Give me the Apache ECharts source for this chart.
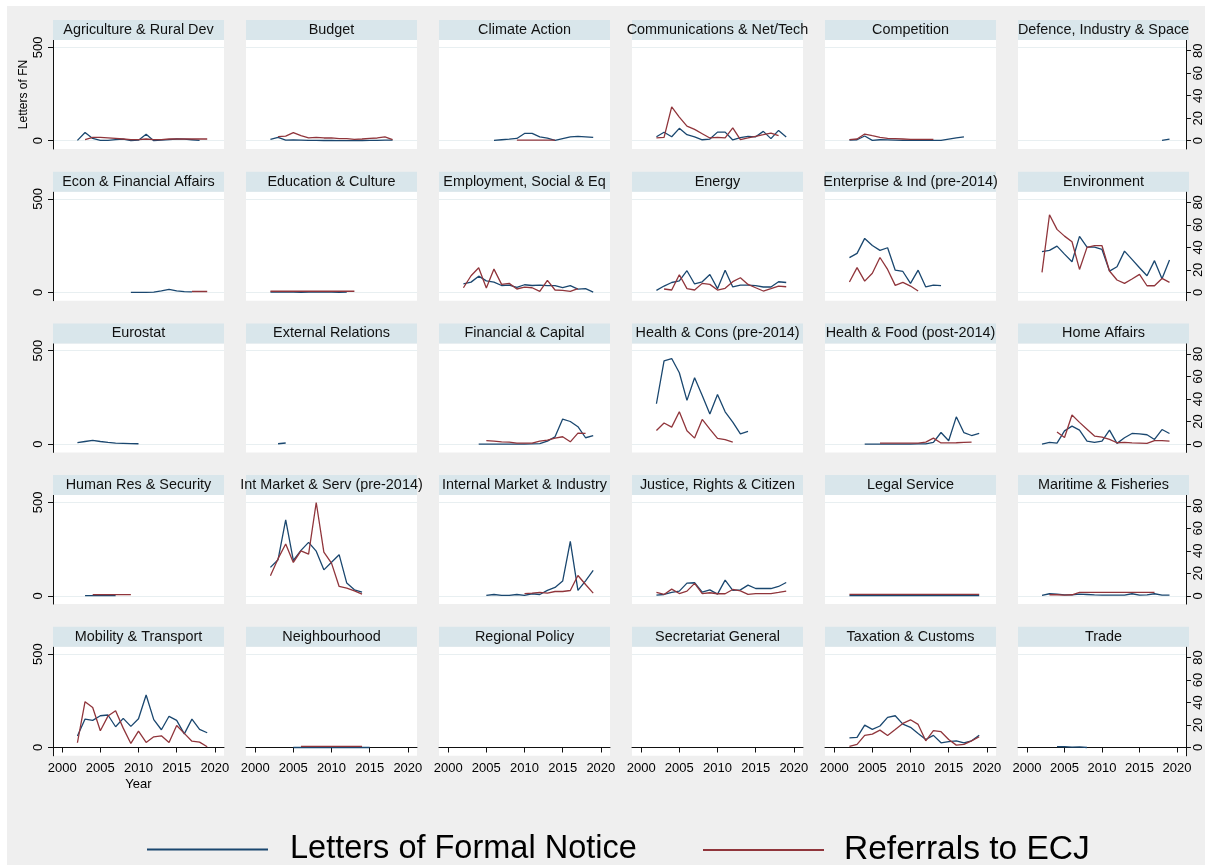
<!DOCTYPE html>
<html><head><meta charset="utf-8">
<script src="https://cdn.jsdelivr.net/npm/echarts@6/dist/echarts.min.js"></script>
<style>
html,body{margin:0;padding:0;background:#fff;}
#bg{position:absolute;left:7px;top:6px;width:1198px;height:859px;background:#efefef;}
#chart{position:absolute;left:0;top:0;width:1205px;height:865px;}
</style></head><body>
<div id="bg"></div><div id="chart"></div>
<script>
const _ = null;
const years = [2002,2003,2004,2005,2006,2007,2008,2009,2010,2011,2012,2013,2014,2015,2016,2017,2018,2019];
const xTicks = [2000,2005,2010,2015,2020];
const leftTicks = [0,500];
const rightTicks = [0,20,40,60,80];

const panelNames = [
  'Agriculture & Rural Dev','Budget','Climate Action','Communications & Net/Tech','Competition','Defence, Industry & Space',
  'Econ & Financial Affairs','Education & Culture','Employment, Social & Eq','Energy','Enterprise & Ind (pre-2014)','Environment',
  'Eurostat','External Relations','Financial & Capital','Health & Cons (pre-2014)','Health & Food (post-2014)','Home Affairs',
  'Human Res & Security','Int Market & Serv (pre-2014)','Internal Market & Industry','Justice, Rights & Citizen','Legal Service','Maritime & Fisheries',
  'Mobility & Transport','Neighbourhood','Regional Policy','Secretariat General','Taxation & Customs','Trade'
];

// Letters of Formal Notice (left axis), years 2002-2019
const lettersFN = [
  [2,44,12,2,2,6,8,0,3,34,0,3,6,9,8,5,2,_],
  [7,18,3,4,3,2,2,1,1,0,0,0,1,2,2,3,3,_],
  [_,_,_,_,2,5,8,12,39,39,21,14,2,11,20,23,21,18],
  [21,45,21,66,32,21,5,9,46,46,4,16,23,21,50,11,55,20],
  [3,5,25,2,5,4,3,2,2,2,2,2,2,9,15,21,_,_],
  [_,_,_,_,_,_,_,_,_,_,_,_,_,_,_,_,2,9],
  [_,_,_,_,_,_,_,0,0,0,1,8,16,8,4,3,_,_],
  [2,1,2,1,0,1,1,1,1,0,1,_,_,_,_,_,_,_],
  [46,55,87,62,55,37,39,27,41,37,39,36,36,25,36,18,20,2],
  [11,34,53,62,116,45,57,96,20,119,29,39,39,36,29,29,57,53],
  [186,209,289,251,225,239,119,112,48,119,29,39,36,_,_,_,_,_],
  [218,225,248,205,164,300,242,242,230,114,137,221,177,132,89,170,73,173],
  [8,14,20,14,9,5,4,3,2,_,_,_,_,_,_,_,_,_],
  [_,2,6,_,_,_,_,_,_,_,_,_,_,_,_,_,_,_],
  [_,_,0,0,0,0,0,0,0,1,3,16,39,134,121,93,34,45],
  [216,446,458,382,234,355,260,161,266,173,118,55,68,_,_,_,_,_],
  [_,_,0,0,0,0,0,0,0,1,1,9,62,18,146,61,46,57],
  [0,9,5,71,96,75,16,9,16,75,4,34,57,55,50,25,78,57],
  [_,1,1,1,1,1,_,_,_,_,_,_,_,_,_,_,_,_],
  [152,193,407,189,243,286,239,139,180,220,68,32,20,_,_,_,_,_],
  [_,_,_,2,7,2,2,7,2,11,7,29,45,79,291,29,80,136],
  [4,7,18,25,68,70,20,32,9,84,29,32,57,39,39,39,50,71],
  [1,1,1,1,1,1,1,1,1,1,1,1,1,1,1,1,1,1],
  [2,11,9,5,5,9,7,5,4,4,4,4,11,4,5,11,4,4],
  [61,152,145,170,174,111,156,113,154,281,149,95,167,145,73,152,97,79],
  [_,_,_,0,0,0,0,0,0,0,0,0,0,0,_,_,_,_],
  [],
  [],
  [52,54,120,97,115,161,170,125,108,75,43,65,25,32,36,25,36,66],
  [_,_,5,4,2,3,0,_,_,_,_,_,_,_,_,_,_,_]
];

// Referrals to ECJ (right axis), years 2002-2019
const referrals = [
  [_,1,3,3,2.5,2,1.5,1,1,1.5,1,1,1.5,1.5,1.5,1.5,1.5,1.5],
  [_,3.6,4.1,7.1,4.4,2.4,3,2.4,2.4,1.8,1.8,1.2,1.5,2,2.4,3.3,1,_],
  [_,_,_,_,_,_,_,0.5,0.5,0.5,0.5,0.5,0.5,_,_,_,_,_],
  [2.4,3,30,21,13,10,6.2,2.4,3,2.4,11.3,1,2.4,3.9,5.3,6.8,4.4,_],
  [1,1.5,5.9,4.4,3,2,1.8,1.5,1.2,1.2,1.2,1.2,_,_,_,_,_,_],
  [],
  [_,_,_,_,_,_,_,_,_,_,_,_,_,_,_,0.8,0.8,0.8],
  [1,1,1,1,1,1,1,1,1,1,1,1,_,_,_,_,_,_],
  [4.1,14.8,21.9,3.9,20.7,7.1,8,3,4.7,4.1,0.9,10.7,2.1,1.8,0.9,3.3,_,_],
  [_,3,2.1,15.7,3.3,2.1,8,7.1,2.1,3.6,9.5,13,7.1,4.1,1.2,3.3,5.6,5],
  [9.2,22,10,17,31,20.4,6.2,8.9,5.6,1.2,_,_,_,_,_,_,_,_],
  [17.8,69,56,50,45,20.4,40,41.5,41.5,19,11,8,11.9,16,5.9,5.9,12.4,8.9],
  [],
  [],
  [_,_,_,3,2.7,2,1.8,0.9,0.9,0.9,2.7,3.6,5.3,6.5,2,9.8,9.5,_],
  [12.1,18.7,15.1,28.7,11.9,5.3,21.9,13.3,5,3.9,1.8,_,_,_,_,_,_,_],
  [_,_,_,_,0.9,0.9,0.9,0.9,0.9,0.9,1.8,5.3,1,1,1.2,1.5,1.8,_],
  [_,_,10.7,5.9,25.8,19.3,13.2,7.1,6.2,4.1,1.2,1.5,1,0.8,0.6,3,3,2.7],
  [_,_,1,1,1,1,1,1,_,_,_,_,_,_,_,_,_,_],
  [17.8,33,46,29.6,40,37,82.9,38.8,29,8.3,6.8,4.4,1.5,_,_,_,_,_],
  [_,_,_,_,_,_,_,_,2,2.4,3,2.4,3.8,3.8,4.7,18,10,2.4],
  [3,1.2,5.9,2,4.1,11,2,2.7,1.8,1.8,5.6,4.4,1.2,2,2,2,3,4.1],
  [1.2,1.2,1.2,1.2,1.2,1.2,1.2,1.2,1.2,1.2,1.2,1.2,1.2,1.2,1.2,1.2,1.2,1.2],
  [_,0.9,0.9,0.6,0.9,3,3,3,3,3,3,3,3,3,3,3,_,_],
  [4.2,40.7,35.6,14.9,27.9,32.7,17.2,3.6,14.6,4.5,9.5,10.4,4.5,19.6,12.5,5.6,4.8,0.6],
  [_,_,_,_,1,1,1,1,1,1,1,1,1,_,_,_,_,_],
  [],
  [],
  [0.9,2.7,10.7,11.9,15.4,10.7,16,21.4,24.6,20.5,5.9,14.9,14,7.1,2.1,2.7,5.9,9.5],
  []
];

const F = "'Liberation Sans', Arial, Helvetica, sans-serif";
const BLUE = '#1a476f', RED = '#90353b';
const AX = '#111';
const pts = arr => years.map((y,k)=>[y, arr[k]]).filter(p => p[1] != null);

const option = {
  animation: false,
  textStyle: {fontFamily: F},
  title: [], grid: [], xAxis: [], yAxis: [], series: [],
  legend: [
    {left:147, top:833, padding:0, selectedMode:false, data:['Letters of Formal Notice'],
     icon:'rect', itemWidth:121, itemHeight:2,
     textStyle:{fontSize:32.5, color:'#000', fontFamily:F, padding:[0,0,0,17]}},
    {left:703, top:833, padding:0, selectedMode:false, data:['Referrals to ECJ'],
     icon:'rect', itemWidth:121, itemHeight:2,
     textStyle:{fontSize:33.5, color:'#000', fontFamily:F, padding:[0,0,0,15]}}
  ]
};

panelNames.forEach((name, i) => {
  const r = Math.floor(i/6), c = i % 6;
  const left = 53 + 193*c, top = 40 + 151.7*r;
  option.grid.push({left:left, top:top, width:171, height:109, show:true, backgroundColor:'#fff', borderWidth:0});
  option.title.push({
    left:left, top:top-20, padding:0,
    text:'{h|' + name + '}',
    textStyle:{fontWeight:'normal', rich:{h:{width:171, height:20, lineHeight:20, align:'center', verticalAlign:'middle',
      backgroundColor:'#d9e6eb', color:'#111', fontSize:14.4, fontWeight:'normal', fontFamily:F}}}
  });
  option.xAxis.push({
    gridIndex:i, type:'value', min:1998.8, max:2021.2, show: r === 4,
    axisLine:{show:true, lineStyle:{color:AX, width:1}},
    axisTick:{show:true, customValues:xTicks, length:5, lineStyle:{color:AX}},
    axisLabel:{show:true, customValues:xTicks, fontSize:13, color:'#000', margin:6, formatter: v => String(v)},
    splitLine:{show:false},
    name: i === 24 ? 'Year' : '', nameLocation:'middle', nameGap:22,
    nameTextStyle:{fontSize:13, color:'#000'}
  });
  option.yAxis.push({
    gridIndex:i, type:'value', min:-44.4, max:539, position:'left',
    axisLine:{show: c === 0, lineStyle:{color:AX, width:1}},
    axisTick:{show: c === 0, customValues:leftTicks, length:5, lineStyle:{color:AX}},
    axisLabel:{show: c === 0, customValues:leftTicks, rotate:90, fontSize:13, color:'#000', margin:8},
    splitLine:{show:true, lineStyle:{color:'#e8eff1', width:1.2}},
    name: i === 0 ? 'Letters of FN' : '', nameLocation:'middle', nameRotate:90, nameGap:23,
    nameTextStyle:{fontSize:12, color:'#000'}
  });
  option.yAxis.push({
    gridIndex:i, type:'value', min:-7.4, max:89.5, position:'right', show: c === 5,
    axisLine:{show:true, lineStyle:{color:AX, width:1}},
    axisTick:{show:true, customValues:rightTicks, length:5, lineStyle:{color:AX}},
    axisLabel:{show:true, customValues:rightTicks, rotate:90, fontSize:13, color:'#000', margin:6},
    splitLine:{show:false}
  });
  option.series.push({
    name:'Letters of Formal Notice', type:'line', xAxisIndex:i, yAxisIndex:2*i,
    data: pts(lettersFN[i]), symbol:'none', silent:true, color:BLUE,
    lineStyle:{color:BLUE, width:1.3}
  });
  option.series.push({
    name:'Referrals to ECJ', type:'line', xAxisIndex:i, yAxisIndex:2*i+1,
    data: pts(referrals[i]), symbol:'none', silent:true, color:RED,
    lineStyle:{color:RED, width:1.3}
  });
});

const chart = echarts.init(document.getElementById('chart'), null, {renderer:'canvas'});
chart.setOption(option);
</script></body></html>
